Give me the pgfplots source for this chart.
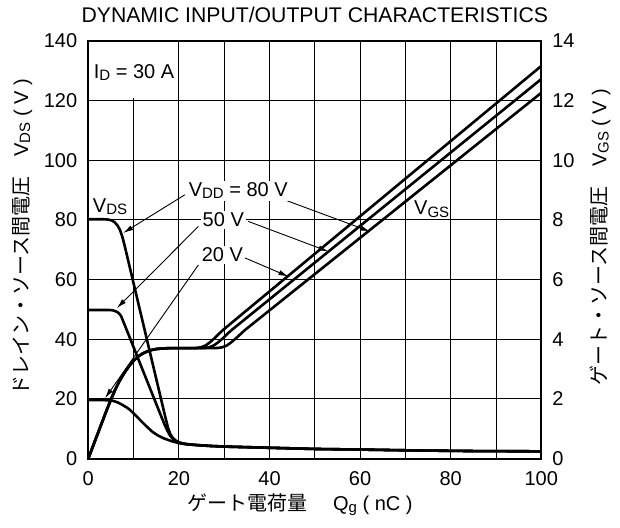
\documentclass[border=0pt]{standalone}
\usepackage{fontspec}
\setmainfont{Liberation Sans}
\newfontfamily\jp{Noto Sans CJK JP}
\usepackage{pgfplots}
\pgfplotsset{compat=1.18}
\usetikzlibrary{arrows.meta}

\newcommand\sub[1]{\raisebox{-0.2ex}{\fontsize{7.5}{8}\selectfont #1}}

\pgfplotsset{
  base/.style={
    scale only axis, width=226.5pt, height=208.8pt,
    xmin=0, xmax=100,
    major tick length=0pt, minor tick length=0pt,
    axis line style={line width=1pt},
    /pgf/number format/assume math mode=true,
    ticklabel style={font=\fontsize{10}{12}\selectfont},
    label style={font=\fontsize{10}{12}\selectfont},
  },
  curve/.style={black, line width=1.3pt, line join=round, no marks},
}
\tikzset{
  note/.style={font=\fontsize{10}{12}\selectfont, inner sep=1pt},
  arr/.style={line width=0.45pt, -{Latex[length=5pt,width=2.6pt]}},
}

\begin{document}
\begin{tikzpicture}
\path[use as bounding box] (-44.15pt,-34.25pt) rectangle (265.85pt,229.25pt);

% left axis: VDS
\begin{axis}[base,
  ymin=0, ymax=140,
  xtick={0,20,...,100}, minor xtick={10,30,...,90},
  ytick={0,20,...,140},
  grid=both,
  major grid style={black, line width=0.45pt},
  minor grid style={black, line width=0.45pt},
  yticklabel style={xshift=-2pt},
  xticklabel style={yshift=-3pt},
  title={DYNAMIC INPUT/OUTPUT CHARACTERISTICS},
  title style={at={(axis description cs:0.5,1)}, anchor=center, yshift=7pt,
    font=\fontsize{10.6}{12}\selectfont},
  xlabel={{\jp ゲート電荷量}\hspace{1.3em}Q\sub{g} ( nC )},
  xlabel style={at={(axis description cs:0.467,-0.11)}, anchor=center},
  ylabel={{\jp ドレイン・ソース間電圧}\hspace{1em}V\sub{DS} ( V )},
  ylabel style={at={(axis description cs:-0.146,0.53)}, anchor=center},
]
\fill[white] (0.4,121) rectangle (19.8,139.6);
\node[note] at (10.1,129.3) {I\sub{D} = 30 A};

% VDD = 80 V
\addplot[curve] coordinates {
  (0,80.2) (3.5,80.2) (4.4,80.1) (5.2,79.8) (5.9,79.1) (6.5,78.0) (7.0,76.6)
  (7.5,74.4) (8,71.5) (10,58.7) (12,45.9) (14,33.1) (16,20.3) (17.0,13.9)
  (17.6,10.3) (18.1,8.2) (18.6,7.0) (19.2,6.1) (20,5.4) (21,5.0) (22.5,4.7)
  (24,4.5) (27,4.2) (30,4.0) (35,3.8) (40,3.6) (50,3.2) (60,3.0) (72,2.7)
  (85,2.5) (100,2.4)
};
% VDD = 50 V
\addplot[curve] coordinates {
  (0,49.8) (4.4,49.8) (5.3,49.7) (6.0,49.4) (6.6,48.9) (7.2,47.9) (8,44.9)
  (10,37.3) (12,29.7) (14,22.1) (16,14.5) (16.8,11.5) (17.4,9.5) (18.0,7.8)
  (18.6,6.7) (19.3,5.9) (20.2,5.3) (21.2,4.9) (22.5,4.7) (24,4.5) (27,4.2)
  (30,4.0) (35,3.8) (40,3.6) (50,3.2) (60,3.0) (72,2.7) (85,2.5) (100,2.4)
};
% VDD = 20 V
\addplot[curve] coordinates {
  (0,19.6) (3,19.6) (4.5,19.5) (5.5,19.3) (6.5,18.8) (7.5,18.0) (8.5,17.1)
  (9.2,16.3) (10.5,14.4) (11.7,12.5) (12.9,10.7) (14.2,8.9) (15.4,7.7)
  (16.6,6.8) (18.4,5.8) (20.2,5.1) (22,4.7) (24,4.5) (27,4.2) (30,4.0)
  (35,3.8) (40,3.6) (50,3.2) (60,3.0) (72,2.7) (85,2.5) (100,2.4)
};

% annotations
\draw[arr] (21.3,88.4) -- (7.7,75.6);
\draw[arr] (42.3,87.3) -- (62.2,76.1);
\draw[arr] (24.3,77.8) -- (6.3,50.4);
\draw[arr] (35.3,79.5) -- (53.0,69.4);
\draw[arr] (24.3,64.9) -- (3.7,20.2);
\draw[arr] (34.2,67.5) -- (44.2,61.0);
\node[note, fill=white] at (33.1,89.8) {V\sub{DD} = 80 V};
\node[note, fill=white] at (29.8,80.0) {50 V};
\node[note, fill=white] at (29.6,68.3) {20 V};
\node[note] at (4.8,84.5) {V\sub{DS}};
\node[note] at (75.8,83.6) {V\sub{GS}};
\end{axis}

% right axis: VGS
\begin{axis}[base,
  ymin=0, ymax=14,
  axis x line=none, axis y line*=right,
  ytick={0,2,...,14},
  yticklabel style={xshift=2pt},
  ylabel={{\jp ゲート・ソース間電圧}\hspace{1em}V\sub{GS} ( V )},
  ylabel style={at={(axis description cs:1.130,0.53)}, anchor=center},
]
% VDD = 20 V
\addplot[curve] coordinates {
  (0,0) (2,0.8) (4,1.6) (5,1.98) (6,2.33) (7,2.63) (8,2.88) (9,3.1) (10,3.28)
  (11,3.42) (12,3.52) (13,3.59) (14,3.64) (15,3.67) (16.5,3.69) (18,3.70)
  (22.9,3.70) (23.9,3.705) (24.9,3.73) (25.9,3.79) (26.9,3.90) (27.9,4.04)
  (28.9,4.19) (29.9,4.33) (100,13.16)
};
% VDD = 50 V
\addplot[curve] coordinates {
  (0,0) (2,0.8) (4,1.6) (5,1.98) (6,2.33) (7,2.63) (8,2.88) (9,3.1) (10,3.28)
  (11,3.42) (12,3.52) (13,3.59) (14,3.64) (15,3.67) (16.5,3.69) (18,3.70)
  (24.7,3.70) (25.7,3.705) (26.7,3.73) (27.7,3.79) (28.7,3.90) (29.7,4.03)
  (30.7,4.18) (31.7,4.315) (100,12.72)
};
% VDD = 80 V
\addplot[curve] coordinates {
  (0,0) (2,0.8) (4,1.6) (5,1.98) (6,2.33) (7,2.63) (8,2.88) (9,3.1) (10,3.28)
  (11,3.42) (12,3.52) (13,3.59) (14,3.64) (15,3.67) (16.5,3.69) (18,3.70)
  (27.6,3.70) (28.6,3.705) (29.6,3.73) (30.6,3.79) (31.6,3.90) (32.6,4.03)
  (33.6,4.17) (34.6,4.31) (100,12.26)
};
\end{axis}
\end{tikzpicture}
\end{document}
